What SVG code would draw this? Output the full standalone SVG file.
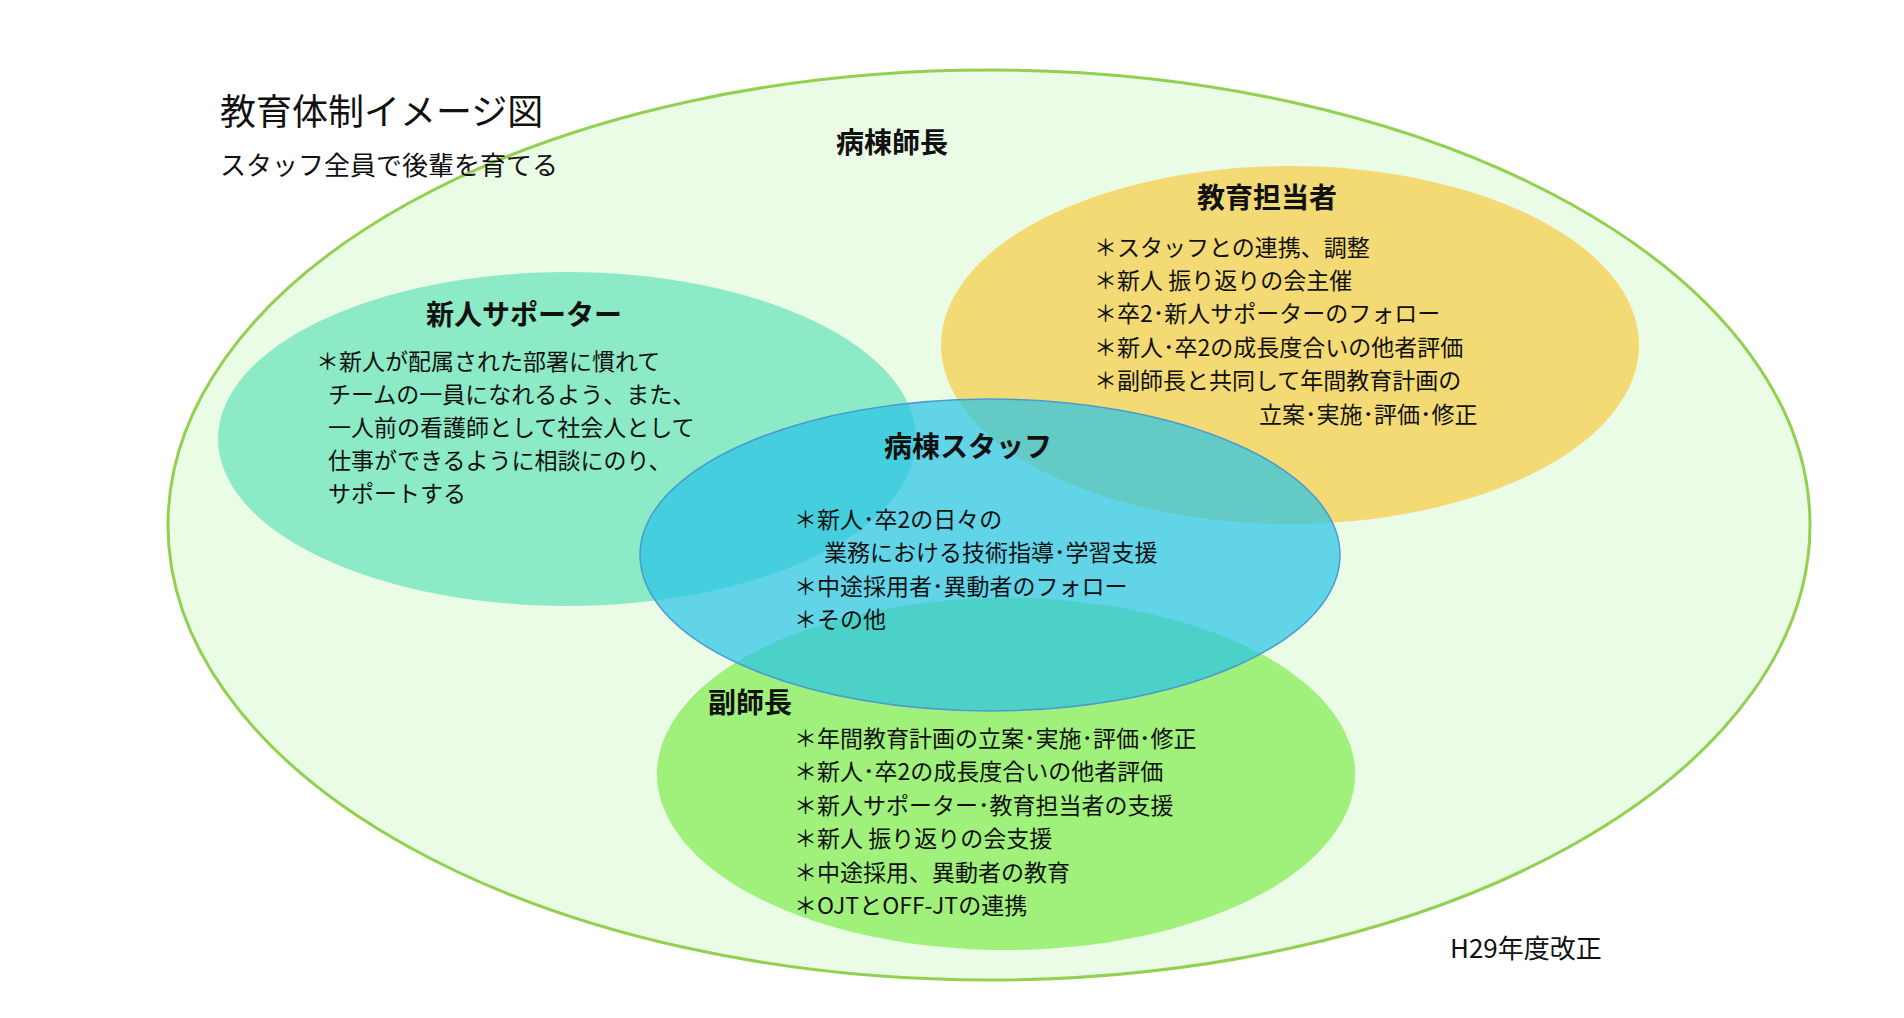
<svg xmlns="http://www.w3.org/2000/svg" width="1904" height="1018" viewBox="0 0 1904 1018">
<style>
text{font-family:"Noto Sans CJK JP","Noto Sans",sans-serif;fill:#111}
.h{font-weight:bold;font-size:28px;text-anchor:middle}
.t{font-size:23px}
</style>
<rect width="1904" height="1018" fill="#fff"/>
<g id="outer"><ellipse cx="989" cy="525" rx="821" ry="455" fill="#eafbe6" stroke="#92d050" stroke-width="3"/>
<text x="892" y="153" class="h">病棟師長</text></g>
<g id="title"><text x="220" y="125" font-size="36">教育体制イメージ図</text>
<text x="220" y="175" font-size="26">スタッフ全員で後輩を育てる</text></g>
<g id="edu"><ellipse cx="1290" cy="345" rx="349" ry="179" fill="#f3da74"/>
<text x="1267" y="208" class="h">教育担当者</text>
<g class="t"><text x="1094" y="256" class="t">＊スタッフとの連携、調整</text>
<text x="1094" y="289" class="t">＊新人 振り返りの会主催</text>
<text x="1094" y="322" class="t">＊卒2･新人サポーターのフォロー</text>
<text x="1094" y="356" class="t">＊新人･卒2の成長度合いの他者評価</text>
<text x="1094" y="389" class="t">＊副師長と共同して年間教育計画の</text>
<text x="1259" y="423" class="t">立案･実施･評価･修正</text></g></g>
<g id="sup"><ellipse cx="567" cy="439" rx="349" ry="167" fill="#8deac6"/>
<text x="524" y="325" class="h">新人サポーター</text>
<text x="316" y="370" class="t">＊新人が配属された部署に慣れて</text>
<text x="328" y="403" class="t">チームの一員になれるよう、また、</text>
<text x="328" y="436" class="t">一人前の看護師として社会人として</text>
<text x="328" y="469" class="t">仕事ができるように相談にのり、</text>
<text x="328" y="502" class="t">サポートする</text></g>
<g id="vice"><ellipse cx="1006" cy="774" rx="349" ry="176" fill="#a0f07c"/>
<text x="708" y="713" font-size="28" font-weight="bold">副師長</text>
<text x="794" y="747" class="t">＊年間教育計画の立案･実施･評価･修正</text>
<text x="794" y="780" class="t">＊新人･卒2の成長度合いの他者評価</text>
<text x="794" y="814" class="t">＊新人サポーター･教育担当者の支援</text>
<text x="794" y="847" class="t">＊新人 振り返りの会支援</text>
<text x="794" y="881" class="t">＊中途採用、異動者の教育</text>
<text x="794" y="914" class="t">＊OJTとOFF-JTの連携</text></g>
<g id="staff"><ellipse cx="990" cy="555" rx="350" ry="156" fill="#27c3e8" fill-opacity="0.7" stroke="#4a9bd0" stroke-width="1.5"/>
<text x="968" y="457" class="h">病棟スタッフ</text>
<text x="794" y="528" class="t">＊新人･卒2の日々の</text>
<text x="824" y="561" class="t">業務における技術指導･学習支援</text>
<text x="794" y="595" class="t">＊中途採用者･異動者のフォロー</text>
<text x="794" y="628" class="t">＊その他</text></g>
<g id="connectors"/>
<text x="1450" y="958" font-size="26">H29年度改正</text>
</svg>
